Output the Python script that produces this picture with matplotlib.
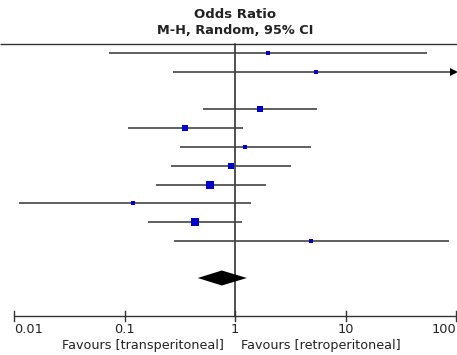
import numpy as np
import matplotlib
matplotlib.use("Agg")
import matplotlib.pyplot as plt

# Study rows (row 3 has no estimable result)
rows = [1, 2, 4, 5, 6, 7, 8, 9, 10, 11]
odds_ratio = [1.99, 5.4, 1.68, 0.353, 1.23, 0.92, 0.594, 0.12, 0.435, 4.87]
ci_low = [0.072, 0.275, 0.51, 0.108, 0.318, 0.263, 0.193, 0.011, 0.163, 0.28]
ci_high = [54.8, 100.0, 5.5, 1.18, 4.87, 3.21, 1.9, 1.40, 1.16, 86.0]
arrow_right = [False, True, False, False, False, False, False, False, False, False]
marker_px = [2.2, 2.2, 5.0, 5.0, 3.5, 4.5, 5.5, 2.2, 5.5, 2.8]

pooled_or = 0.76
pooled_low = 0.46
pooled_high = 1.28

tick_values = [0.01, 0.1, 1, 10, 100]
tick_labels = ["0.01", "0.1", "1", "10", "100"]

title1 = "Odds Ratio"
title2 = "M-H, Random, 95% CI"
favours_left = "Favours [transperitoneal]"
favours_right = "Favours [retroperitoneal]"

W, H = 457, 355
fig = plt.figure(figsize=(W / 100, H / 100), dpi=100)
ax = fig.add_axes([0, 0, 1, 1])
ax.set_xscale("log")
# pixel mapping: log10(x) = (px - 235)/110.5 ; row = (py - 53)/18.8 + 1
ppd = 110.5
x0 = 10 ** ((0 - 235) / ppd)
x1 = 10 ** ((W - 235) / ppd)
ax.set_xlim(x0, x1)
rstep = 18.8
ax.set_ylim((H - 53) / rstep + 1, (0 - 53) / rstep + 1)
ax.axis("off")

def prow(py):
    return (py - 53) / rstep + 1

line_col = "#444444"
blue = "#0000CC"
txt_col = "#222222"

# header line
ax.plot([x0, x1], [prow(44), prow(44)], color="#333333", lw=1.0, solid_capstyle="butt")
# vertical line of no effect
ax.plot([1, 1], [prow(44), prow(316)], color="#222222", lw=1.1, zorder=1)

for r, o, lo, hi, arr, ms in zip(rows, odds_ratio, ci_low, ci_high, arrow_right, marker_px):
    ax.plot([lo, hi], [r, r], color=line_col, lw=1.2, solid_capstyle="butt", zorder=2)
    if arr:
        ax.plot([hi * 0.95], [r], marker=">", color="black", ms=6, mew=0, zorder=3)
    ax.plot([o], [r], marker="s", color=blue, ms=ms, mew=0, zorder=4)

# pooled diamond
yd = prow(278)
hd = 7.5 / rstep
ax.fill([pooled_low, pooled_or, pooled_high, pooled_or],
        [yd, yd - hd, yd, yd + hd], color="black", zorder=5, lw=0)

# bottom axis
ya = prow(316)
ax.plot([0.01, 100], [ya, ya], color="#333333", lw=1.0, solid_capstyle="butt")
n = len(tick_values)
for i, (tv, tl) in enumerate(zip(tick_values, tick_labels)):
    ax.plot([tv, tv], [ya - 5 / rstep, ya + 5 / rstep], color="#333333", lw=1.0)
    ha = "left" if i == 0 else ("right" if i == n - 1 else "center")
    ax.text(tv, prow(329), tl, ha=ha, va="center", fontsize=9.3, color=txt_col)

ax.text(1, prow(15), title1, ha="center", va="center", fontsize=9.5, fontweight="bold", color=txt_col)
ax.text(1, prow(31), title2, ha="center", va="center", fontsize=9.3, fontweight="bold", color=txt_col)

ax.text(10 ** ((224 - 235) / ppd), prow(345), favours_left, ha="right", va="center", fontsize=9.2, color=txt_col)
ax.text(10 ** ((241 - 235) / ppd), prow(345), favours_right, ha="left", va="center", fontsize=9.2, color=txt_col)

fig.savefig("out.png", dpi=100)
